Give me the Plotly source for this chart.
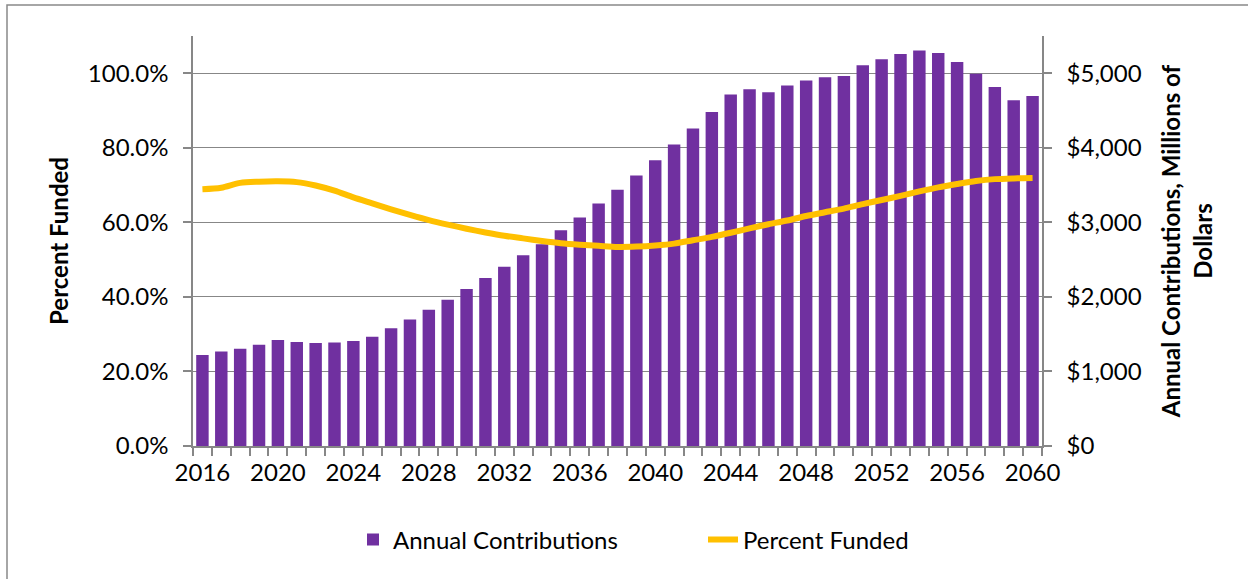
import plotly.graph_objects as go

years = list(range(2016, 2061))

# Annual contributions, millions of dollars
contributions = [
    1220, 1269, 1304, 1358, 1421, 1394, 1381, 1390, 1408, 1466,
    1578, 1698, 1828, 1962, 2105, 2252, 2404, 2560, 2708, 2895,
    3065, 3253, 3436, 3628, 3834, 4044, 4258, 4482, 4714, 4786,
    4745, 4835, 4902, 4946, 4964, 5107, 5188, 5259, 5304, 5272,
    5151, 4995, 4817, 4638, 4696,
]

# Percent funded (fraction)
percent_funded = [
    0.689, 0.693, 0.706, 0.709, 0.710, 0.708, 0.699, 0.685, 0.667, 0.651,
    0.635, 0.620, 0.606, 0.594, 0.583, 0.573, 0.564, 0.557, 0.550, 0.544,
    0.540, 0.537, 0.534, 0.535, 0.538, 0.543, 0.552, 0.561, 0.572, 0.584,
    0.595, 0.605, 0.617, 0.627, 0.637, 0.649, 0.660, 0.671, 0.683, 0.694,
    0.703, 0.711, 0.716, 0.718, 0.719,
]

x_tick_years = list(range(2016, 2061, 4))
left_ticks = [0, 0.2, 0.4, 0.6, 0.8, 1.0]
right_ticks = [0, 1000, 2000, 3000, 4000, 5000]
right_tick_text = ["$0", "$1,000", "$2,000", "$3,000", "$4,000", "$5,000"]

PURPLE = "#7030A0"
GOLD = "#FFC000"
GRID = "#878787"
FONT = "Lato"
FS = 24

fig = go.Figure()

# Bars on the right-hand dollar axis
fig.add_trace(go.Bar(
    x=years, y=contributions, name="Annual Contributions",
    marker=dict(color=PURPLE, line=dict(width=0)),
    width=0.66, yaxis="y",
))

# Funding ratio on the overlaying left-hand axis so it draws over the bars
fig.add_trace(go.Scatter(
    x=years, y=percent_funded, name="Percent Funded",
    mode="lines", line=dict(color=GOLD, width=6, shape="spline", smoothing=0.8),
    yaxis="y2",
))

fig.update_layout(
    width=1248, height=579,
    margin=dict(l=193, r=206, t=36, b=133),
    paper_bgcolor="white", plot_bgcolor="white",
    font=dict(family=FONT, size=FS, color="#000000"),
    showlegend=True,
    legend=dict(
        orientation="h", x=(353 - 193) / 849, xanchor="left",
        y=-0.229, yanchor="middle",
        font=dict(size=FS), entrywidth=305, entrywidthmode="pixels",
        traceorder="normal",
    ),
    xaxis=dict(
        range=[2015.5, 2060.5],
        tickvals=x_tick_years, ticktext=[str(v) for v in x_tick_years],
        ticks="", showgrid=False, zeroline=False,
        showline=True, linecolor=GRID, linewidth=1.5,
        minor=dict(ticks="outside", tick0=2015.5, dtick=1, ticklen=8,
                   tickcolor=GRID, tickwidth=1.5, showgrid=False),
        ticklabelstandoff=4,
    ),
    yaxis=dict(
        range=[0, 5500], tickvals=right_ticks, ticktext=right_tick_text,
        side="right", showgrid=True, gridcolor=GRID, gridwidth=1.3,
        zeroline=False, showline=True, linecolor=GRID, linewidth=1.5,
        ticks="outside", ticklen=8, tickcolor=GRID, tickwidth=1.5,
        ticklabelstandoff=10,
        title=dict(text="<b>Annual Contributions, Millions of<br>Dollars</b>",
                   standoff=23, font=dict(size=FS)),
    ),
    yaxis2=dict(
        range=[0, 1.1], tickvals=left_ticks, tickformat=".1%",
        overlaying="y", side="left", showgrid=False, zeroline=False,
        showline=True, linecolor=GRID, linewidth=1.5,
        ticks="outside", ticklen=8, tickcolor=GRID, tickwidth=1.5,
        ticklabelstandoff=10,
        title=dict(text="<b>Percent Funded</b>", standoff=12, font=dict(size=FS)),
    ),
    shapes=[dict(
        type="rect", xref="paper", yref="paper",
        x0=(7 - 193) / 849, x1=(1260 - 193) / 849,
        y0=(446 - 590) / 410, y1=(446 - 5) / 410,
        line=dict(color="#898989", width=1.5), fillcolor="rgba(0,0,0,0)",
        layer="below",
    )],
)

fig.write_html("out.html")
